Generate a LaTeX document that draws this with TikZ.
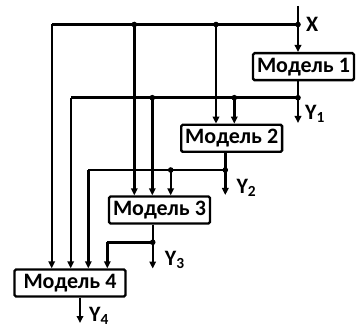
\documentclass[tikz,border=0pt]{standalone}
\usepackage{fontspec}
\setmainfont{Carlito}
\usetikzlibrary{arrows.meta}
\tikzset{
  wire/.style={draw=black, line width=2.4pt, line join=miter},
  feed/.style={wire, -{Triangle[length=7pt,width=6.5pt]}},
  model/.style={draw=black, line width=2.4pt, rounded corners=1.5pt, fill=white, font=\fontsize{22}{22}\selectfont\bfseries, inner xsep=4pt, inner ysep=0pt, minimum height=27pt},
  junction/.style={fill=black},
  tag/.style={font=\fontsize{22}{22}\selectfont\bfseries, inner sep=0pt},
}

\begin{document}
\begin{tikzpicture}[x=1pt,y=-1pt]
\useasboundingbox (0,0) rectangle (356,331);
% blocks
\node[model] (m1) at (303.5,66.7) {Модель 1};
\node[model] (m2) at (231.7,138.3) {Модель 2};
\node[model] (m3) at (159.5,210) {Модель 3};
\node[model, minimum width=111pt] (m4) at (70,283) {Модель 4};
% branch points
\coordinate (xin) at (298,6);
\coordinate (xj) at (298,24.5);
\coordinate (xa) at (216,24.5);
\coordinate (xb) at (134.3,24.5);
\coordinate (xc) at (51.7,24.5);
\coordinate (j1) at (298,97.7);
\coordinate (j1a) at (234.3,97.7);
\coordinate (j1b) at (152.3,97.7);
\coordinate (j1c) at (70.7,97.7);
\coordinate (j2) at (225.3,170);
\coordinate (j2a) at (170.7,170);
\coordinate (j2b) at (88.3,170);
\coordinate (j3) at (152.7,242.3);
\coordinate (j3a) at (107.3,242.3);
\coordinate (y1) at (298,123);
\coordinate (y2) at (225.3,195);
\coordinate (y3) at (152.7,268.5);
\coordinate (y4) at (80,323);
% input X
\draw[feed] (xin) -- (xin |- m1.north);
\draw[wire] (xj) -- (xc);
\draw[feed] (xc) -- (xc |- m4.north);
\draw[feed] (xa) -- (xa |- m2.north);
\draw[feed] (xb) -- (xb |- m3.north);
% output of model 1
\draw[feed] (j1 |- m1.south) -- (y1);
\draw[wire] (j1) -- (j1c);
\draw[feed] (j1c) -- (j1c |- m4.north);
\draw[feed] (j1a) -- (j1a |- m2.north);
\draw[feed] (j1b) -- (j1b |- m3.north);
% output of model 2
\draw[feed] (j2 |- m2.south) -- (y2);
\draw[wire] (j2) -- (j2b);
\draw[feed] (j2b) -- (j2b |- m4.north);
\draw[feed] (j2a) -- (j2a |- m3.north);
% output of model 3
\draw[feed] (j3 |- m3.south) -- (y3);
\draw[wire] (j3) -- (j3a);
\draw[feed] (j3a) -- (j3a |- m4.north);
% output of model 4
\draw[feed] (y4 |- m4.south) -- (y4);
% dots
\foreach \p in {xj,xa,xb,j1,j1a,j1b,j2,j2a,j3}
  \fill[junction] (\p) circle (2.8);
% labels
\node[tag, anchor=west] (xl) at ([xshift=8pt]xj) {X};
\node[tag, anchor=west] (y1l) at ([xshift=7pt,yshift=9pt]y1) {Y\textsubscript{1}};
\node[tag, anchor=west] (y2l) at ([xshift=11pt,yshift=7pt]y2) {Y\textsubscript{2}};
\node[tag, anchor=west] (y3l) at ([xshift=12pt,yshift=9pt]y3) {Y\textsubscript{3}};
\node[tag, anchor=west] (y4l) at ([xshift=9pt,yshift=7pt]y4) {Y\textsubscript{4}};
\end{tikzpicture}
\end{document}
